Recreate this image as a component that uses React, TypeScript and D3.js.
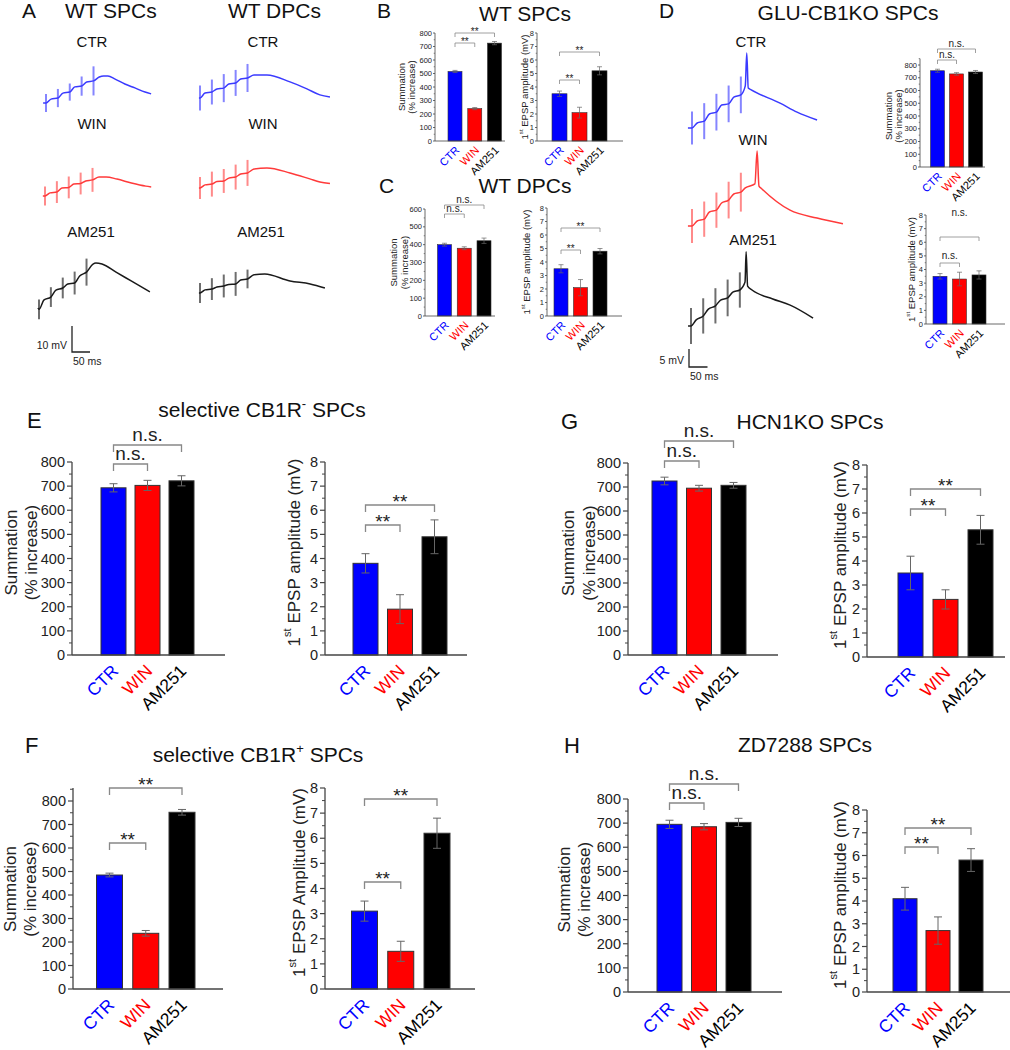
import React from 'react';
import * as d3 from 'd3';

const FONT = '"Liberation Sans", Arial, Helvetica, sans-serif';

const GROUPS = ['CTR', 'WIN', 'AM251'];
const BAR_FILL = ['#0000ff', '#ff0000', '#000000'];
const LABEL_FILL = ['#0000ff', '#ff0000', '#000000'];

// stimulus times (ms) for the EPSP trains
const STIM_MS = [0, 33, 66, 99, 132];

type Pt = [number, number]; // [ms, mV]

// panel A, WT SPCs
const aSpcCtr: Pt[] = [[-8, 0], [0, 0], [14, 1.5], [33, 1.9], [47, 3.8], [66, 4.2], [80, 6.2], [99, 6.5], [113, 8.1], [132, 8.5], [148, 10], [160, 10.4], [172, 10.4], [192, 9.2], [219, 7.3], [247, 5.8], [275, 4.2], [292, 3.5]];
const aSpcWin: Pt[] = [[-6, 0], [0, 0], [14, 1.2], [33, 1.5], [47, 3.1], [66, 3.3], [80, 4.6], [99, 4.8], [113, 5.8], [132, 6.2], [150, 7.3], [170, 7.3], [200, 6.5], [240, 5], [280, 3.8], [295, 3.5]];
const aSpcAm: Pt[] = [[-3, 0], [0, -0.5], [14, 3.1], [33, 4.2], [47, 6.9], [66, 7.7], [80, 9.2], [99, 9.6], [113, 12.3], [132, 13.8], [150, 16.9], [158, 17.3], [175, 16.9], [214, 13.8], [256, 10.4], [308, 6.2]];
// panel A, WT DPCs
const aDpcCtr: Pt[] = [[-3, 0], [0, 0], [14, 1.9], [33, 2.3], [47, 3.5], [66, 3.8], [80, 5.4], [99, 5.8], [113, 7.3], [132, 7.7], [150, 8.8], [186, 8.8], [250, 6.2], [297, 3.5], [333, 1.2], [361, 0.4]];
const aDpcWin: Pt[] = [[-3, 0], [0, 0], [14, 1.2], [33, 1.5], [47, 2.5], [66, 2.7], [80, 3.8], [99, 4.2], [113, 5.4], [132, 5.8], [150, 7.3], [186, 7.7], [250, 5.8], [305, 3.5], [333, 2.3], [361, 1.7]];
const aDpcAm: Pt[] = [[-3, 0], [0, 0], [14, 1.2], [33, 1.5], [47, 2.3], [66, 2.7], [80, 3.3], [99, 3.5], [113, 5], [132, 5.4], [150, 7], [180, 7.3], [250, 4.6], [306, 3.5], [347, 1.9]];
// panel D, GLU-CB1KO SPCs (with spike)
const dCtr: Pt[] = [[-11, 0], [0, 0], [14, 1.4], [33, 1.9], [47, 3.9], [66, 4.4], [80, 6.4], [99, 6.7], [113, 8.6], [132, 9.2], [144, 11.7], [148, 20.8], [152, 11.1], [160, 10.6], [238, 6.9], [284, 4.4], [338, 2.2]];
const dWin: Pt[] = [[-11, 0], [0, 0], [14, 1.4], [33, 1.9], [47, 3.9], [66, 4.4], [80, 6.4], [99, 7.2], [113, 8.9], [132, 9.4], [144, 10.6], [170, 11.7], [176, 20.8], [181, 11.1], [189, 10.3], [265, 4.4], [338, 2.2], [408, 0.6]];
const dAm: Pt[] = [[-8, 0], [0, 0], [14, 1.7], [33, 2.8], [47, 4.7], [66, 5.6], [80, 7.2], [99, 7.8], [113, 9.4], [132, 10], [146, 12.2], [149, 20.6], [153, 11.1], [165, 10], [221, 7.5], [268, 5.8], [330, 2.2]];

// stimulus artifact half heights (mV)
const aSpcCtrArt = [3.5, 3.5, 3.3, 3.7, 5.6];
const aSpcWinArt = [3.7, 4.2, 4.2, 4.2, 4.6];
const aSpcAmArt = [3.8, 3.8, 4, 4.4, 5.2];
const aDpcCtrArt = [4.8, 4.8, 5.4, 5, 5.4];
const aDpcWinArt = [4.2, 4.8, 4.6, 4.8, 5];
const aDpcAmArt = [3.8, 4.2, 4.4, 4.6, 3.6];
const dCtrArt = [4.6, 5, 5.1, 5.1, 5.1];
const dWinArt = [4.7, 4.9, 4.9, 5.1, 5.4];
const dAmArt = [5, 4.9, 4.9, 5.1, 4.9];

// bar values: CTR, WIN, AM251
const bSum = [515, 240, 725];
const bSumErr = [8, 8, 12];
const bSumSig = ['**', '**'];
const bEpsp = [3.5, 2.1, 5.2];
const bEpspErr = [0.2, 0.4, 0.3];
const bEpspSig = ['**', '**'];

const cSum = [400, 380, 422];
const cSumErr = [8, 8, 15];
const cSumSig = ['n.s.', 'n.s.'];
const cEpsp = [3.5, 2.1, 4.8];
const cEpspErr = [0.3, 0.6, 0.2];
const cEpspSig = ['**', '**'];

const dSum = [755, 730, 745];
const dSumErr = [12, 10, 12];
const dSumSig = ['n.s.', 'n.s.'];
const dEpsp = [3.5, 3.3, 3.6];
const dEpspErr = [0.2, 0.5, 0.3];
const dEpspSig = ['n.s.', 'n.s.'];

const eSum = [693, 703, 722];
const eSumErr = [17, 21, 21];
const eSumSig = ['n.s.', 'n.s.'];
const eEpsp = [3.8, 1.9, 4.9];
const eEpspErr = [0.4, 0.6, 0.7];
const eEpspSig = ['**', '**'];

const fSum = [485, 237, 752];
const fSumErr = [8, 12, 12];
const fSumSig = ['**', '**'];
const fEpsp = [3.1, 1.5, 6.2];
const fEpspErr = [0.4, 0.4, 0.6];
const fEpspSig = ['**', '**'];

const gSum = [725, 695, 707];
const gSumErr = [16, 12, 12];
const gSumSig = ['n.s.', 'n.s.'];
const gEpsp = [3.5, 2.4, 5.3];
const gEpspErr = [0.7, 0.4, 0.6];
const gEpspSig = ['**', '**'];

const hSum = [695, 685, 703];
const hSumErr = [17, 13, 17];
const hSumSig = ['n.s.', 'n.s.'];
const hEpsp = [4.1, 2.7, 5.8];
const hEpspErr = [0.5, 0.6, 0.5];
const hEpspSig = ['**', '**'];

type Cfg = {
  vals: number[];
  errs: number[];
  sig: string[];
  ax: number;
  y0: number;
  yTop: number;
  tickMax: number;
  domMax: number;
  cx: [number, number];
  bw: number;
  xEnd: number;
  br: [number, number];
  sigY?: [number, number];
  small: boolean;
  ylab: 'sum' | 'epsp' | 'epspA';
  ylabX: number[];
};

const vAt = (tr: Pt[], t: number) => {
  const i = d3.bisector((d: Pt) => d[0]).left(tr, t);
  if (i <= 0) return tr[0][1];
  if (i >= tr.length) return tr[tr.length - 1][1];
  const a = tr[i - 1];
  const b = tr[i];
  return a[1] + ((b[1] - a[1]) * (t - a[0])) / (b[0] - a[0]);
};

type TraceProps = {
  data: Pt[];
  art: number[];
  x0: number;
  y0: number;
  pxMs: number;
  pxMv: number;
  color: string;
  artColor: string;
};

const Trace = ({ data, art, x0, y0, pxMs, pxMv, color, artColor }: TraceProps) => {
  const xs = d3.scaleLinear().domain([0, 100]).range([x0, x0 + 100 * pxMs]);
  const ys = d3.scaleLinear().domain([0, 10]).range([y0, y0 - 10 * pxMv]);
  const line = d3
    .line<Pt>()
    .x((d) => xs(d[0]))
    .y((d) => ys(d[1]))
    .curve(d3.curveMonotoneX);
  return (
    <g>
      {STIM_MS.map((t, i) => {
        const v = vAt(data, t);
        return (
          <line
            key={i}
            x1={xs(t)}
            x2={xs(t)}
            y1={ys(v + art[i])}
            y2={ys(v - art[i])}
            stroke={artColor}
            strokeWidth={2}
          />
        );
      })}
      <path d={line(data) || ''} fill="none" stroke={color} strokeWidth={1.5} />
    </g>
  );
};

const YLabel = ({ c, mid }: { c: Cfg; mid: number }) => {
  const fs = c.small ? 9.5 : 17;
  const tr = (x: number) => `translate(${x},${mid}) rotate(-90)`;
  if (c.ylab === 'sum') {
    return (
      <g fontSize={fs} fill="#222">
        <text transform={tr(c.ylabX[0])} textAnchor="middle" dominantBaseline="central">
          Summation
        </text>
        <text transform={tr(c.ylabX[1])} textAnchor="middle" dominantBaseline="central">
          (% increase)
        </text>
      </g>
    );
  }
  return (
    <text transform={tr(c.ylabX[0])} textAnchor="middle" dominantBaseline="central" fontSize={fs} fill="#222">
      1
      <tspan fontSize={fs * 0.65} dy={-fs * 0.4}>
        st
      </tspan>
      <tspan dy={fs * 0.4}>{c.ylab === 'epspA' ? ' EPSP Amplitude (mV)' : ' EPSP amplitude (mV)'}</tspan>
    </text>
  );
};

const BarChart = ({ c }: { c: Cfg }) => {
  const S = c.small;
  const y = d3.scaleLinear().domain([0, c.tickMax]).range([c.y0, c.yTop]);
  const x = d3.scalePoint<string>().domain(GROUPS).range(c.cx);
  const ticks = y.ticks(c.tickMax > 10 ? c.tickMax / 100 : c.tickMax);
  const step = ticks[1] - ticks[0];
  const minor = d3.range(step / 2, c.domMax + 1e-9, step);
  const tl = S ? 2 : 5;
  const ml = S ? 1.3 : 3;
  const cap = S ? 2.5 : 4;
  const leg = S ? 4 : 7;
  const axisCol = '#444';
  const mid = (c.y0 + c.yTop) / 2 - (S ? 0 : 6);
  const pairs: [string, string][] = [
    ['CTR', 'WIN'],
    ['CTR', 'AM251'],
  ];
  return (
    <g fontFamily={FONT}>
      {/* bars */}
      {c.vals.map((v, i) => (
        <rect
          key={i}
          x={x(GROUPS[i])! - c.bw / 2}
          y={y(v)}
          width={c.bw}
          height={c.y0 - y(v)}
          fill={BAR_FILL[i]}
          stroke="#333"
          strokeWidth={S ? 0.6 : 1}
        />
      ))}
      {/* error bars */}
      {c.vals.map((v, i) => {
        const cxp = x(GROUPS[i])!;
        const hi = y(v + c.errs[i]);
        const lo = y(v - c.errs[i]);
        return (
          <g key={i} stroke="#666" strokeWidth={S ? 0.7 : 1}>
            <line x1={cxp} x2={cxp} y1={hi} y2={lo} />
            <line x1={cxp - cap} x2={cxp + cap} y1={hi} y2={hi} />
            <line x1={cxp - cap} x2={cxp + cap} y1={lo} y2={lo} />
          </g>
        );
      })}
      {/* axes */}
      <line x1={c.ax} x2={c.ax} y1={c.y0} y2={y(c.domMax)} stroke={axisCol} strokeWidth={S ? 0.8 : 1.3} />
      <line x1={c.ax} x2={c.xEnd} y1={c.y0} y2={c.y0} stroke={axisCol} strokeWidth={S ? 0.8 : 1.3} />
      {ticks.map((t) => (
        <g key={t}>
          <line x1={c.ax - tl} x2={c.ax} y1={y(t)} y2={y(t)} stroke={axisCol} strokeWidth={S ? 0.8 : 1.2} />
          <text
            x={c.ax - tl - (S ? 1 : 2)}
            y={y(t)}
            textAnchor="end"
            dominantBaseline="central"
            fontSize={S ? 7.5 : 14.5}
            fill="#222"
          >
            {t}
          </text>
        </g>
      ))}
      {minor.map((t) => (
        <line key={t} x1={c.ax - ml} x2={c.ax} y1={y(t)} y2={y(t)} stroke={axisCol} strokeWidth={S ? 0.6 : 1} />
      ))}
      <YLabel c={c} mid={mid} />
      {/* category labels */}
      {GROUPS.map((g, i) => {
        const px = x(g)! + (S ? 5 : 6);
        const py = c.y0 + (S ? 10 : 17);
        return (
          <text
            key={g}
            transform={`translate(${px},${py}) rotate(-45)`}
            textAnchor="end"
            fontSize={S ? 11 : 17.5}
            fill={LABEL_FILL[i]}
          >
            {g}
          </text>
        );
      })}
      {/* significance brackets */}
      {pairs.map(([a, b], k) => {
        const x1 = x(a)!;
        const x2 = x(b)!;
        const yb = c.br[k];
        const lab = c.sig[k];
        const star = lab === '**';
        const ty = c.sigY ? c.sigY[k] : star ? yb + (S ? 1.5 : 3) : yb - (S ? 2 : 4);
        return (
          <g key={k}>
            <path
              d={`M${x1},${yb + leg}V${yb}H${x2}V${yb + leg}`}
              fill="none"
              stroke="#888"
              strokeWidth={S ? 0.8 : 1.3}
            />
            <text x={(x1 + x2) / 2} y={ty} textAnchor="middle" fontSize={S ? 10 : 19} fill="#222">
              {lab}
            </text>
          </g>
        );
      })}
    </g>
  );
};

const charts: Cfg[] = [
  { vals: bSum, errs: bSumErr, sig: bSumSig, ax: 435, y0: 141, yTop: 33, tickMax: 800, domMax: 800, cx: [455, 494.5], bw: 14, xEnd: 505, br: [43, 33], small: true, ylab: 'sum', ylabX: [401, 411] },
  { vals: bEpsp, errs: bEpspErr, sig: bEpspSig, ax: 537, y0: 141, yTop: 33, tickMax: 8, domMax: 8, cx: [559.5, 599.5], bw: 15, xEnd: 623, br: [80, 52], small: true, ylab: 'epsp', ylabX: [524] },
  { vals: cSum, errs: cSumErr, sig: cSumSig, ax: 425, y0: 316, yTop: 209, tickMax: 600, domMax: 600, cx: [444.5, 484], bw: 14, xEnd: 495, br: [214, 205], small: true, ylab: 'sum', ylabX: [393, 404] },
  { vals: cEpsp, errs: cEpspErr, sig: cEpspSig, ax: 547, y0: 316, yTop: 208, tickMax: 8, domMax: 8, cx: [561, 600], bw: 14, xEnd: 622, br: [250, 228], small: true, ylab: 'epsp', ylabX: [526] },
  { vals: dSum, errs: dSumErr, sig: dSumSig, ax: 920, y0: 167, yTop: 65, tickMax: 800, domMax: 850, cx: [937.5, 975.5], bw: 14, xEnd: 985, br: [60, 49], small: true, ylab: 'sum', ylabX: [888, 898] },
  { vals: dEpsp, errs: dEpspErr, sig: dEpspSig, ax: 926, y0: 324, yTop: 215, tickMax: 8, domMax: 8, cx: [940, 979], bw: 14, xEnd: 1005, br: [263, 237], sigY: [259, 216], small: true, ylab: 'epsp', ylabX: [911] },
  { vals: eSum, errs: eSumErr, sig: eSumSig, ax: 72, y0: 655, yTop: 462, tickMax: 800, domMax: 800, cx: [113.5, 181.5], bw: 25, xEnd: 225, br: [464, 445], small: false, ylab: 'sum', ylabX: [11, 31] },
  { vals: eEpsp, errs: eEpspErr, sig: eEpspSig, ax: 325, y0: 655, yTop: 462, tickMax: 8, domMax: 8, cx: [365.5, 434.5], bw: 25, xEnd: 467, br: [525, 505], small: false, ylab: 'epsp', ylabX: [294] },
  { vals: fSum, errs: fSumErr, sig: fSumSig, ax: 73, y0: 989, yTop: 801, tickMax: 800, domMax: 855, cx: [109.5, 182], bw: 26, xEnd: 223, br: [843, 788], small: false, ylab: 'sum', ylabX: [10, 30] },
  { vals: fEpsp, errs: fEpspErr, sig: fEpspSig, ax: 325, y0: 989, yTop: 788, tickMax: 8, domMax: 8, cx: [364.5, 437], bw: 26, xEnd: 475, br: [882, 799], small: false, ylab: 'epspA', ylabX: [299] },
  { vals: gSum, errs: gSumErr, sig: gSumSig, ax: 628, y0: 655, yTop: 463, tickMax: 800, domMax: 800, cx: [664.5, 733.5], bw: 25, xEnd: 778, br: [461, 441], small: false, ylab: 'sum', ylabX: [568, 589] },
  { vals: gEpsp, errs: gEpspErr, sig: gEpspSig, ax: 867, y0: 657, yTop: 465, tickMax: 8, domMax: 8, cx: [910.5, 980.5], bw: 25, xEnd: 1005, br: [509, 489], small: false, ylab: 'epsp', ylabX: [840] },
  { vals: hSum, errs: hSumErr, sig: hSumSig, ax: 628, y0: 992, yTop: 799, tickMax: 800, domMax: 800, cx: [669.5, 738.5], bw: 25, xEnd: 782, br: [803, 784], small: false, ylab: 'sum', ylabX: [564, 584] },
  { vals: hEpsp, errs: hEpspErr, sig: hEpspSig, ax: 867, y0: 992, yTop: 810, tickMax: 8, domMax: 8, cx: [905, 971], bw: 24, xEnd: 1010, br: [847, 828], small: false, ylab: 'epsp', ylabX: [840] },
];

const BLUE = '#3a3aff';
const RED = '#ff3a3a';
const BLACK = '#1a1a1a';
const BLUE_ART = '#8585ff';
const RED_ART = '#ff8a8a';
const BLACK_ART = '#6e6e6e';

const A_MS = 0.36;
const A_MV = 2.6;
const D_MS = 0.37;
const D_MV = 3.6;

const traces: TraceProps[] = [
  { data: aSpcCtr, art: aSpcCtrArt, x0: 46, y0: 103, pxMs: A_MS, pxMv: A_MV, color: BLUE, artColor: BLUE_ART },
  { data: aSpcWin, art: aSpcWinArt, x0: 45, y0: 196, pxMs: A_MS, pxMv: A_MV, color: RED, artColor: RED_ART },
  { data: aSpcAm, art: aSpcAmArt, x0: 39, y0: 308, pxMs: A_MS, pxMv: A_MV, color: BLACK, artColor: BLACK_ART },
  { data: aDpcCtr, art: aDpcCtrArt, x0: 200, y0: 98, pxMs: A_MS, pxMv: A_MV, color: BLUE, artColor: BLUE_ART },
  { data: aDpcWin, art: aDpcWinArt, x0: 200, y0: 188, pxMs: A_MS, pxMv: A_MV, color: RED, artColor: RED_ART },
  { data: aDpcAm, art: aDpcAmArt, x0: 200, y0: 293, pxMs: A_MS, pxMv: A_MV, color: BLACK, artColor: BLACK_ART },
  { data: dCtr, art: dCtrArt, x0: 692, y0: 128, pxMs: D_MS, pxMv: D_MV, color: BLUE, artColor: BLUE_ART },
  { data: dWin, art: dWinArt, x0: 692, y0: 226, pxMs: D_MS, pxMv: D_MV, color: RED, artColor: RED_ART },
  { data: dAm, art: dAmArt, x0: 691, y0: 326, pxMs: D_MS, pxMv: D_MV, color: BLACK, artColor: BLACK_ART },
];

const ScaleBar = ({ x, y, mv, ms, pxMv, pxMs, mvLabel, msLabel }: { x: number; y: number; mv: number; ms: number; pxMv: number; pxMs: number; mvLabel: string; msLabel: string }) => (
  <g fontFamily={FONT} fontSize={10.5} fill="#222">
    <path d={`M${x},${y - mv * pxMv}V${y}H${x + ms * pxMs}`} fill="none" stroke="#222" strokeWidth={1.3} />
    <text x={x - 5} y={y - 3} textAnchor="end">
      {mvLabel}
    </text>
    <text x={x + 1} y={y + 13}>
      {msLabel}
    </text>
  </g>
);

export default function App() {
  return (
    <svg
      width={1010}
      height={1050}
      style={{ position: 'absolute', left: 0, top: 0, background: '#fff' }}
      fontFamily={FONT}
    >
      <rect width={1010} height={1050} fill="#fff" />

      {/* panel A */}
      <g fill="#111">
        <text x={22} y={18} fontSize={21}>A</text>
        <text x={65} y={18} fontSize={21}>WT SPCs</text>
        <text x={228} y={18} fontSize={21}>WT DPCs</text>
        <g fontSize={15} textAnchor="middle">
          <text x={92} y={47}>CTR</text>
          <text x={263} y={47}>CTR</text>
          <text x={92} y={129}>WIN</text>
          <text x={263} y={129}>WIN</text>
          <text x={91} y={237}>AM251</text>
          <text x={261} y={237}>AM251</text>
        </g>
      </g>
      <ScaleBar x={72} y={352} mv={10} ms={50} pxMv={A_MV} pxMs={A_MS} mvLabel="10 mV" msLabel="50 ms" />

      {/* panel B / C / D headers */}
      <g fill="#111">
        <text x={377} y={18} fontSize={21}>B</text>
        <text x={525} y={21} fontSize={21} textAnchor="middle">WT SPCs</text>
        <text x={379} y={193} fontSize={21}>C</text>
        <text x={525} y={193} fontSize={21} textAnchor="middle">WT DPCs</text>
        <text x={659} y={18} fontSize={21}>D</text>
        <text x={848} y={20} fontSize={21} textAnchor="middle">GLU-CB1KO SPCs</text>
        <g fontSize={15} textAnchor="middle">
          <text x={751} y={47}>CTR</text>
          <text x={753} y={145}>WIN</text>
          <text x={753} y={245}>AM251</text>
        </g>
      </g>
      <ScaleBar x={689} y={367} mv={5} ms={50} pxMv={D_MV} pxMs={D_MS} mvLabel="5 mV" msLabel="50 ms" />

      {traces.map((t, i) => (
        <Trace key={i} {...t} />
      ))}

      {/* panels E-H headers */}
      <g fill="#111">
        <text x={27} y={428} fontSize={22}>E</text>
        <text x={262} y={417} fontSize={21} textAnchor="middle">
          selective CB1R
          <tspan fontSize={13} dy={-9}>-</tspan>
          <tspan dy={9}> SPCs</tspan>
        </text>
        <text x={25} y={753} fontSize={22}>F</text>
        <text x={258} y={762} fontSize={21} textAnchor="middle">
          selective CB1R
          <tspan fontSize={13} dy={-9}>+</tspan>
          <tspan dy={9}> SPCs</tspan>
        </text>
        <text x={561} y={429} fontSize={22}>G</text>
        <text x={810} y={429} fontSize={21} textAnchor="middle">HCN1KO SPCs</text>
        <text x={564} y={753} fontSize={22}>H</text>
        <text x={805} y={752} fontSize={21} textAnchor="middle">ZD7288 SPCs</text>
      </g>

      {charts.map((c, i) => (
        <BarChart key={i} c={c} />
      ))}
    </svg>
  );
}
